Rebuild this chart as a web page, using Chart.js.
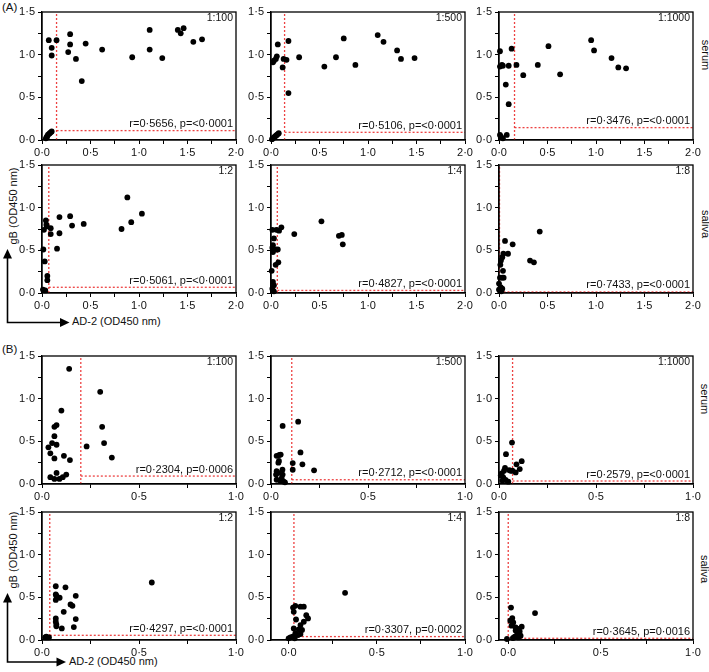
<!DOCTYPE html>
<html><head><meta charset="utf-8">
<script src="https://cdn.jsdelivr.net/npm/chart.js@4.4.0/dist/chart.umd.min.js"></script>
<style>
body{margin:0;background:#fff;width:709px;height:672px;position:relative;overflow:hidden;font-family:'Liberation Sans',Arial,sans-serif;color:#111}
canvas{position:absolute}
.lbl{position:absolute;font-size:11px;white-space:nowrap;line-height:1}
.rot{transform:translate(-50%,-50%) rotate(90deg)}
.rotl{transform:translate(-50%,-50%) rotate(-90deg)}
svg{position:absolute;left:0;top:0}
</style></head><body>
<div class="lbl" style="left:2px;top:2px;font-size:11.5px">(A)</div>
<div class="lbl" style="left:2px;top:344px;font-size:11.5px">(B)</div>
<div class="lbl rot" style="left:705px;top:55px">serum</div>
<div class="lbl rot" style="left:705px;top:224px">saliva</div>
<div class="lbl rot" style="left:704px;top:399px">serum</div>
<div class="lbl rot" style="left:704px;top:569px">saliva</div>
<div class="lbl rotl" style="left:13px;top:206px">gB (OD450 nm)</div>
<div class="lbl rotl" style="left:13px;top:550px">gB (OD450 nm)</div>
<div class="lbl" style="left:72px;top:316px">AD-2 (OD450 nm)</div>
<div class="lbl" style="left:69px;top:656px">AD-2 (OD450 nm)</div>
<svg width="709" height="672">
  <g stroke="#000" stroke-width="1.6" fill="none">
    <polyline points="7.5,257 7.5,322.5 61,322.5"/>
    <polyline points="7.5,602 7.5,662 57,662"/>
  </g>
  <g fill="#000">
    <polygon points="7.5,249 3,258.5 12,258.5"/>
    <polygon points="69.5,322.5 60,318 60,327"/>
    <polygon points="7.5,593 3,602.5 12,602.5"/>
    <polygon points="66,662 56.5,657.5 56.5,666.5"/>
  </g>
</svg>
<script>
// ---- data ----
const aSerum100X=[0.07,0.15,0.10,0.10,0.29,0.29,0.27,0.35,0.45,0.41,0.62,0.93,1.11,1.11,1.24,1.40,1.43,1.46,1.56,1.65,0.04,0.05,0.06,0.07,0.08,0.09,0.10,0.05];
const aSerum100Y=[1.17,1.17,1.08,0.99,1.24,1.12,1.03,0.95,1.13,0.69,1.06,0.97,1.29,1.06,0.96,1.29,1.25,1.31,1.15,1.18,0.02,0.04,0.06,0.07,0.08,0.09,0.10,0.03];
const aSerum500X=[0.02,0.03,0.05,0.06,0.07,0.12,0.13,0.16,0.18,0.18,0.29,0.55,0.67,0.75,0.87,1.10,1.16,1.30,1.34,1.48,0.01,0.02,0.03,0.04,0.05,0.06,0.07,0.08];
const aSerum500Y=[0.91,0.93,0.95,0.98,1.12,0.85,0.95,0.94,1.16,0.55,0.97,0.86,0.97,1.19,0.88,1.23,1.15,1.05,0.95,0.96,0.01,0.02,0.03,0.04,0.05,0.06,0.07,0.08];
const aSerum1000X=[0.01,0.13,0.01,0.03,0.04,0.10,0.18,0.07,0.10,0.25,0.40,0.51,0.63,0.95,0.98,1.16,1.23,1.31,0.01,0.04,0.08,0.02];
const aSerum1000Y=[1.04,1.07,0.86,0.88,0.87,0.87,0.88,0.65,0.42,0.76,0.88,1.10,0.77,1.17,1.05,0.96,0.85,0.84,0.06,0.02,0.06,0.04];
const aSaliva2X=[0.02,0.04,0.045,0.014,0.028,0.055,0.055,0.01,0.034,0.09,0.09,0.18,0.18,0.155,0.29,0.31,0.43,0.82,0.88,0.92,1.03,0.05];
const aSaliva2Y=[0.74,0.85,0.80,0.51,0.37,0.20,0.15,0.04,0.03,0.76,0.69,0.89,0.70,0.52,0.90,0.79,0.81,0.75,1.12,0.83,0.93,0.78];
const aSaliva4X=[0.014,0.055,0.03,0.02,0.014,0.048,0.07,0.02,0.007,0.048,0.076,0.02,0.03,0.014,0.03,0.083,0.107,0.24,0.52,0.70,0.73,0.74];
const aSaliva4Y=[0.74,0.74,0.64,0.56,0.53,0.51,0.51,0.48,0.26,0.33,0.36,0.13,0.09,0.05,0.02,0.73,0.77,0.69,0.84,0.67,0.68,0.57];
const aSaliva8X=[0.007,0.017,0.0,0.01,0.034,0.048,0.02,0.014,0.034,0.041,0.045,0.062,0.093,0.141,0.32,0.36,0.42,0.0,0.024,0.034];
const aSaliva8Y=[0.03,0.07,0.11,0.18,0.18,0.18,0.38,0.33,0.42,0.26,0.46,0.61,0.46,0.57,0.38,0.36,0.72,0.04,0.02,0.05];
const bSerum100X=[0.14,0.10,0.30,0.31,0.32,0.36,0.23,0.075,0.064,0.064,0.052,0.075,0.033,0.043,0.064,0.113,0.144,0.043,0.075,0.064,0.09,0.107,0.125];
const bSerum100Y=[1.35,0.86,1.08,0.67,0.48,0.31,0.44,0.69,0.67,0.56,0.48,0.46,0.43,0.36,0.30,0.33,0.28,0.08,0.13,0.06,0.06,0.08,0.11];
const bSerum500X=[0.06,0.14,0.152,0.162,0.112,0.112,0.222,0.029,0.043,0.05,0.041,0.038,0.029,0.038,0.059,0.06,0.029,0.047,0.064,0.072,0.026,0.055];
const bSerum500Y=[0.68,0.73,0.37,0.23,0.245,0.167,0.16,0.33,0.34,0.345,0.27,0.25,0.15,0.13,0.167,0.11,0.05,0.04,0.03,0.02,0.11,0.07];
const bSerum1000X=[0.067,0.036,0.117,0.09,0.107,0.086,0.031,0.026,0.052,0.069,0.014,0.022,0.034,0.048,0.06,0.017,0.009];
const bSerum1000Y=[0.485,0.35,0.267,0.23,0.175,0.136,0.19,0.155,0.163,0.155,0.124,0.078,0.047,0.027,0.155,0.04,0.10];
const bSaliva2X=[0.071,0.121,0.071,0.074,0.091,0.071,0.174,0.147,0.157,0.112,0.071,0.071,0.074,0.074,0.102,0.164,0.174,0.566,0.016,0.026,0.036,0.022];
const bSaliva2Y=[0.63,0.617,0.534,0.52,0.495,0.47,0.518,0.417,0.40,0.33,0.253,0.214,0.183,0.16,0.136,0.152,0.245,0.674,0.03,0.03,0.03,0.04];
const bSaliva4X=[0.32,0.025,0.038,0.067,0.086,0.029,0.042,0.086,0.11,0.10,0.067,0.029,0.057,0.076,0.038,0.053,0.067,0.01,0.0,0.023,0.034];
const bSaliva4Y=[0.553,0.38,0.40,0.39,0.39,0.33,0.24,0.214,0.253,0.29,0.175,0.136,0.125,0.117,0.078,0.058,0.07,0.03,0.02,0.04,0.02];
const bSaliva8X=[0.015,0.145,0.022,0.011,0.027,0.018,0.04,0.055,0.073,0.062,0.049,0.067,0.036,0.025,-0.007,0.04,0.031,0.055];
const bSaliva8Y=[0.38,0.316,0.257,0.226,0.206,0.168,0.148,0.129,0.156,0.10,0.07,0.05,0.04,0.023,0.012,0.11,0.03,0.03];

const cutoffX=[0.15,0.14,0.16,0.07,0.065,0.005,0.20,0.107,0.07,0.04,0.03,0.0];
const cutoffY=[0.11,0.09,0.145,0.067,0.03,0.012,0.093,0.05,0.035,0.055,0.04,0.02];
const xMins=[0,0,0,0,0,0,0,0,0,0,-0.1,-0.05];
const xMaxs=[2,2,2,2,2,2,1,1,1,1,1,1];
const yMin=0, yMax=1.5;
const dilutions=['1:100','1:500','1:1000','1:2','1:4','1:8','1:100','1:500','1:1000','1:2','1:4','1:8'];
const stats=['r=0·5656, p=<0·0001','r=0·5106, p=<0·0001','r=0·3476, p=<0·0001','r=0·5061, p=<0·0001','r=0·4827, p=<0·0001','r=0·7433, p=<0·0001',
 'r=0·2304, p=0·0006','r=0·2712, p=<0·0001','r=0·2579, p=<0·0001','r=0·4297, p=<0·0001','r=0·3307, p=0·0002','r=0·3645, p=0·0016'];
const tickStep=0.25, labelStep=0.5;

const seriesX=[aSerum100X,aSerum500X,aSerum1000X,aSaliva2X,aSaliva4X,aSaliva8X,bSerum100X,bSerum500X,bSerum1000X,bSaliva2X,bSaliva4X,bSaliva8X];
const seriesY=[aSerum100Y,aSerum500Y,aSerum1000Y,aSaliva2Y,aSaliva4Y,aSaliva8Y,bSerum100Y,bSerum500Y,bSerum1000Y,bSaliva2Y,bSaliva4Y,bSaliva8Y];

// ---- layout ----
const FONT='"Liberation Sans", Arial, sans-serif';
Chart.defaults.font.family=FONT;
const colLeft=[42,271,499], rowTop=[12,165,356,512], plotW=194, plotH=128;
const PADL=40, PADT=10, PADR=14, PADB=24;
const RED='rgba(235,45,45,0.9)';
function fmt(v){return v.toFixed(1).replace('.','\u00B7');}
function isLabel(v){const r=v/labelStep;return Math.abs(r-Math.round(r))<1e-6;}

const boxPlugin={
  id:'box',
  afterDraw(chart,args,o){
    const {ctx,chartArea:a,scales}=chart;
    ctx.save();
    ctx.strokeStyle='#000';ctx.lineWidth=1.3;
    ctx.strokeRect(a.left,a.top,a.right-a.left,a.bottom-a.top);
    ctx.fillStyle='#111';
    ctx.textAlign='right';
    ctx.font='10.5px '+FONT;ctx.textBaseline='top';
    ctx.fillText(o.dil,a.right-3,a.top+1);
    ctx.font='11px '+FONT;ctx.textBaseline='alphabetic';
    ctx.fillText(o.stat,a.right-3,scales.y.getPixelForValue(o.cy)-3.5);
    ctx.restore();
  }
};
Chart.register(boxPlugin);

seriesX.forEach((xs,i)=>{
  const row=Math.floor(i/3),col=i%3;
  const cv=document.createElement('canvas');
  cv.width=PADL+plotW+PADR;cv.height=PADT+plotH+PADB;
  cv.style.left=(colLeft[col]-PADL)+'px';cv.style.top=(rowTop[row]-PADT)+'px';
  cv.style.width=cv.width+'px';cv.style.height=cv.height+'px';
  document.body.appendChild(cv);
  const pts=xs.map((x,k)=>({x:x,y:seriesY[i][k]}));
  const cx=cutoffX[i],cy=cutoffY[i];
  const axisCommon={
    grid:{display:true,drawOnChartArea:false,drawTicks:true,tickLength:4,color:'#000',tickColor:'#000',tickWidth:1},
    border:{display:true,color:'#000',width:1.3}
  };
  new Chart(cv,{
    type:'scatter',
    data:{datasets:[
      {data:[{x:cx,y:yMin},{x:cx,y:yMax}],showLine:true,borderColor:RED,borderWidth:1.3,borderDash:[2,2],pointRadius:0,order:2},
      {data:[{x:cx,y:cy},{x:xMaxs[i],y:cy}],showLine:true,borderColor:RED,borderWidth:1.3,borderDash:[2,2],pointRadius:0,order:2},
      {data:pts,backgroundColor:'#000',borderColor:'#000',borderWidth:0,pointRadius:2.9,pointHoverRadius:2.9,clip:false,order:1}
    ]},
    options:{
      responsive:false,animation:false,events:[],
      layout:{padding:{top:PADT,right:PADR,left:0,bottom:0}},
      plugins:{legend:{display:false},tooltip:{enabled:false},box:{dil:dilutions[i],stat:stats[i],cy:cy}},
      scales:{
        x:Object.assign({type:'linear',min:xMins[i],max:xMaxs[i],
          afterFit(s){s.height=PADB;},
          ticks:{stepSize:tickStep,autoSkip:false,maxRotation:0,includeBounds:false,padding:2,color:'#111',font:{size:11},
            callback:(v)=>isLabel(v)?fmt(v):''}},axisCommon),
        y:Object.assign({type:'linear',min:yMin,max:yMax,
          afterFit(s){s.width=PADL;},
          ticks:{stepSize:tickStep,autoSkip:false,includeBounds:false,padding:3,color:'#111',font:{size:11},
            callback:(v)=>isLabel(v)?fmt(v):''}},axisCommon)
      }
    }
  });
});
</script>
</body></html>
